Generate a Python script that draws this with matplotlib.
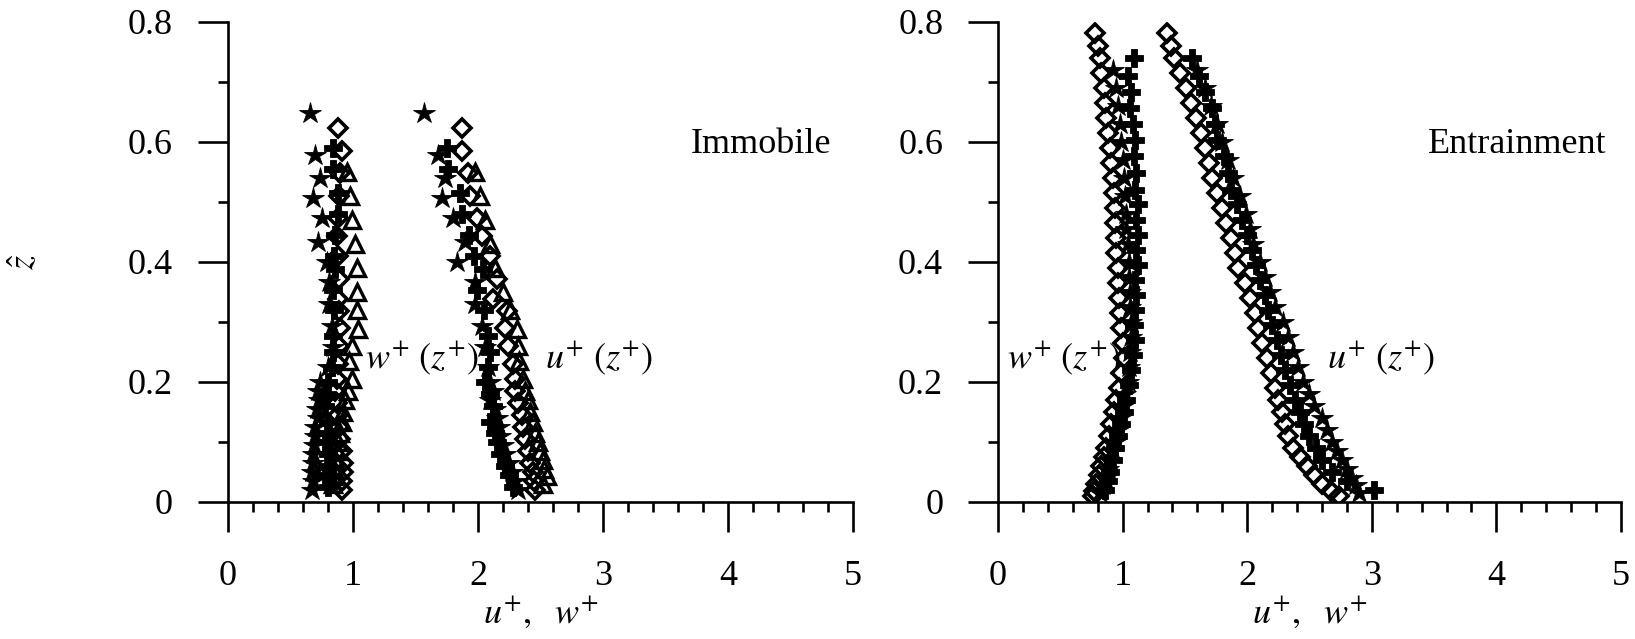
import matplotlib
matplotlib.use('Agg')
import matplotlib.pyplot as plt
from matplotlib.ticker import MultipleLocator

plt.rcParams['font.family'] = ['Liberation Serif', 'DejaVu Serif']
plt.rcParams['mathtext.fontset'] = 'stix'

# ---- Immobile: z, w+ and u+ for each marker series
imm_star_z = [0.648, 0.578, 0.54, 0.507, 0.474, 0.434, 0.40, 0.366, 0.33, 0.293, 0.258, 0.225,
              0.20, 0.185, 0.17, 0.155, 0.14, 0.125, 0.11, 0.095, 0.08, 0.065, 0.05, 0.035, 0.02]
imm_star_w = [0.66, 0.70, 0.74, 0.68, 0.75, 0.72, 0.79, 0.81, 0.81, 0.83, 0.84, 0.80,
              0.74, 0.72, 0.73, 0.71, 0.72, 0.70, 0.70, 0.69, 0.68, 0.68, 0.67, 0.68, 0.67]
imm_star_u = [1.57, 1.68, 1.74, 1.71, 1.80, 1.90, 1.83, 1.98, 1.98, 2.03, 2.06, 2.08,
              2.10, 2.12, 2.10, 2.14, 2.15, 2.17, 2.18, 2.20, 2.22, 2.25, 2.27, 2.30, 2.32]

imm_dia_z = [0.624, 0.585, 0.549, 0.51, 0.474, 0.443, 0.41, 0.371, 0.338, 0.318, 0.29, 0.26,
             0.23, 0.205, 0.185, 0.165, 0.145, 0.125, 0.105, 0.085, 0.065, 0.05, 0.035, 0.02]
imm_dia_w = [0.88, 0.91, 0.90, 0.89, 0.88, 0.87, 0.88, 0.89, 0.88, 0.89, 0.90, 0.89,
             0.88, 0.87, 0.86, 0.87, 0.88, 0.89, 0.90, 0.91, 0.92, 0.92, 0.91, 0.91]
imm_dia_u = [1.87, 1.87, 1.92, 1.94, 1.99, 2.03, 2.10, 2.15, 2.12, 2.23, 2.22, 2.24,
             2.28, 2.30, 2.30, 2.32, 2.35, 2.36, 2.38, 2.40, 2.42, 2.44, 2.45, 2.46]

imm_plus_z = [0.59, 0.555, 0.515, 0.48, 0.445, 0.41, 0.388, 0.354, 0.32, 0.276, 0.25,
              0.225, 0.20, 0.18, 0.16, 0.133, 0.115, 0.10, 0.08, 0.06, 0.045, 0.025]
imm_plus_w = [0.84, 0.84, 0.88, 0.88, 0.86, 0.85, 0.86, 0.84, 0.85, 0.84, 0.84,
              0.83, 0.80, 0.79, 0.78, 0.80, 0.79, 0.78, 0.80, 0.79, 0.78, 0.80]
imm_plus_u = [1.75, 1.76, 1.86, 1.87, 1.93, 1.97, 2.04, 1.99, 2.05, 2.08, 2.10,
              2.08, 2.06, 2.10, 2.12, 2.10, 2.14, 2.15, 2.18, 2.22, 2.25, 2.28]

imm_tri_z = [0.55, 0.51, 0.47, 0.43, 0.39, 0.35, 0.32, 0.288, 0.26, 0.235, 0.205,
             0.185, 0.17, 0.15, 0.133, 0.115, 0.10, 0.085, 0.07, 0.055, 0.043, 0.03]
imm_tri_w = [0.95, 0.98, 0.99, 1.02, 1.03, 1.03, 1.03, 1.04, 0.99, 0.97, 0.99,
             0.96, 0.94, 0.92, 0.91, 0.90, 0.88, 0.87, 0.86, 0.85, 0.84, 0.84]
imm_tri_u = [1.98, 2.02, 2.06, 2.10, 2.14, 2.20, 2.26, 2.31, 2.32, 2.33, 2.36,
             2.38, 2.40, 2.42, 2.44, 2.46, 2.48, 2.50, 2.52, 2.53, 2.55, 2.52]

# ---- Entrainment
ent_dia_z = [0.782, 0.76, 0.74, 0.715, 0.69, 0.665, 0.64, 0.615, 0.59, 0.565, 0.54, 0.515,
             0.49, 0.465, 0.44, 0.415, 0.39, 0.365, 0.34, 0.315, 0.29, 0.265, 0.24, 0.215,
             0.19, 0.17, 0.15, 0.13, 0.11, 0.09, 0.075, 0.06, 0.045, 0.03, 0.018, 0.01]
ent_dia_w = [0.78, 0.80, 0.82, 0.83, 0.85, 0.86, 0.87, 0.88, 0.90, 0.91, 0.92, 0.93,
             0.94, 0.94, 0.95, 0.95, 0.96, 0.96, 0.97, 0.98, 0.99, 1.00, 1.01, 0.99,
             0.97, 0.95, 0.93, 0.91, 0.89, 0.87, 0.85, 0.83, 0.81, 0.79, 0.77, 0.76]
ent_dia_u = [1.36, 1.39, 1.41, 1.46, 1.51, 1.55, 1.59, 1.63, 1.66, 1.69, 1.72, 1.76,
             1.80, 1.83, 1.87, 1.90, 1.93, 1.98, 2.02, 2.06, 2.09, 2.12, 2.16, 2.19,
             2.22, 2.25, 2.28, 2.30, 2.33, 2.37, 2.42, 2.48, 2.54, 2.60, 2.67, 2.74]

ent_plus_z = [0.74, 0.71, 0.684, 0.657, 0.63, 0.604, 0.576, 0.549, 0.52, 0.496, 0.47,
              0.445, 0.42, 0.395, 0.37, 0.345, 0.32, 0.295, 0.27, 0.245, 0.22, 0.195,
              0.17, 0.15, 0.13, 0.11, 0.09, 0.07, 0.05, 0.035, 0.02]
ent_plus_w = [1.09, 1.04, 1.07, 1.06, 1.08, 1.10, 1.09, 1.11, 1.10, 1.12, 1.11,
              1.12, 1.11, 1.12, 1.10, 1.11, 1.10, 1.09, 1.10, 1.08, 1.07, 1.05,
              1.03, 1.01, 0.99, 0.96, 0.94, 0.92, 0.90, 0.88, 0.86]
ent_plus_u = [1.56, 1.61, 1.66, 1.72, 1.74, 1.76, 1.81, 1.85, 1.87, 1.92, 1.96,
              2.00, 2.04, 2.07, 2.10, 2.14, 2.17, 2.20, 2.24, 2.27, 2.30, 2.34,
              2.38, 2.42, 2.46, 2.50, 2.55, 2.60, 2.68, 2.80, 3.02]

ent_star_z = [0.72, 0.69, 0.66, 0.63, 0.60, 0.57, 0.54, 0.51, 0.48, 0.455, 0.43, 0.40,
              0.375, 0.35, 0.325, 0.30, 0.275, 0.25, 0.225, 0.20, 0.18, 0.16, 0.14,
              0.12, 0.10, 0.085, 0.07, 0.055, 0.04, 0.028, 0.015]
ent_star_w = [0.92, 0.95, 0.96, 0.98, 0.99, 1.00, 1.01, 1.02, 1.03, 1.03, 1.04, 1.05,
              1.05, 1.06, 1.06, 1.07, 1.07, 1.06, 1.05, 1.04, 1.02, 1.00, 0.98,
              0.96, 0.94, 0.92, 0.90, 0.88, 0.86, 0.84, 0.82]
ent_star_u = [1.60, 1.66, 1.71, 1.76, 1.80, 1.85, 1.89, 1.94, 1.99, 2.02, 2.05, 2.10,
              2.14, 2.18, 2.22, 2.29, 2.33, 2.37, 2.41, 2.45, 2.50, 2.54, 2.60,
              2.64, 2.68, 2.72, 2.76, 2.80, 2.84, 2.87, 2.90]

FS = 26
sty = {
    'star': dict(marker='*', ms=16, mfc='k', mec='k', mew=0.6),
    'dia': dict(marker='D', ms=9.5, mfc='none', mec='k', mew=2.6),
    'plus': dict(marker='P', ms=12.5, mfc='k', mec='k', mew=0.6),
    'tri': dict(marker='^', ms=11, mfc='none', mec='k', mew=2.4),
}


def style_axes(ax, show_ylabel):
    ax.set_xlim(0, 5)
    ax.set_ylim(0, 0.8)
    ax.spines['top'].set_visible(False)
    ax.spines['right'].set_visible(False)
    for s in ['left', 'bottom']:
        ax.spines[s].set_linewidth(1.9)
    ax.set_xticks([0, 1, 2, 3, 4, 5])
    ax.set_xticklabels(['0', '1', '2', '3', '4', '5'])
    ax.xaxis.set_minor_locator(MultipleLocator(0.2))
    ax.set_yticks([0, 0.2, 0.4, 0.6, 0.8])
    ax.set_yticklabels(['0', '0.2', '0.4', '0.6', '0.8'])
    ax.yaxis.set_minor_locator(MultipleLocator(0.1))
    ax.tick_params(axis='both', which='major', direction='out', length=21.5, width=1.9, labelsize=FS)
    ax.tick_params(axis='both', which='minor', direction='out', length=7.5, width=1.9)
    ax.tick_params(axis='x', which='major', pad=20)
    ax.tick_params(axis='y', which='major', pad=18)
    ax.set_xlabel(r'$u^{+},\ \ w^{+}$', fontsize=FS, labelpad=2)
    if show_ylabel:
        ax.set_ylabel(r'$\hat{z}$', fontsize=FS, labelpad=62)


fig = plt.figure(figsize=(16.35, 6.39), dpi=100)
ax1 = fig.add_axes([0.1394, 0.2144, 0.3823, 0.7512])
ax2 = fig.add_axes([0.6104, 0.2144, 0.3810, 0.7512])

for w, z, key in [(imm_tri_w, imm_tri_z, 'tri'), (imm_plus_w, imm_plus_z, 'plus'),
                  (imm_dia_w, imm_dia_z, 'dia'), (imm_star_w, imm_star_z, 'star')]:
    ax1.plot(w, z, ls='none', **sty[key])
for u, z, key in [(imm_tri_u, imm_tri_z, 'tri'), (imm_plus_u, imm_plus_z, 'plus'),
                  (imm_dia_u, imm_dia_z, 'dia'), (imm_star_u, imm_star_z, 'star')]:
    ax1.plot(u, z, ls='none', **sty[key])

for w, z, key in [(ent_plus_w, ent_plus_z, 'plus'), (ent_star_w, ent_star_z, 'star'),
                  (ent_dia_w, ent_dia_z, 'dia')]:
    ax2.plot(w, z, ls='none', **sty[key])
for u, z, key in [(ent_plus_u, ent_plus_z, 'plus'), (ent_star_u, ent_star_z, 'star'),
                  (ent_dia_u, ent_dia_z, 'dia')]:
    ax2.plot(u, z, ls='none', **sty[key])

style_axes(ax1, True)
style_axes(ax2, False)

ax1.text(3.70, 0.595, 'Immobile', fontsize=FS, va='center')
ax1.text(1.10, 0.24, r'$w^{+}\ (z^{+})$', fontsize=FS, va='center')
ax1.text(2.54, 0.24, r'$u^{+}\ (z^{+})$', fontsize=FS, va='center')
ax2.text(3.45, 0.595, 'Entrainment', fontsize=FS, va='center')
ax2.text(0.07, 0.24, r'$w^{+}\ (z^{+})$', fontsize=FS, va='center')
ax2.text(2.64, 0.24, r'$u^{+}\ (z^{+})$', fontsize=FS, va='center')

fig.savefig('out.png', dpi=100)
